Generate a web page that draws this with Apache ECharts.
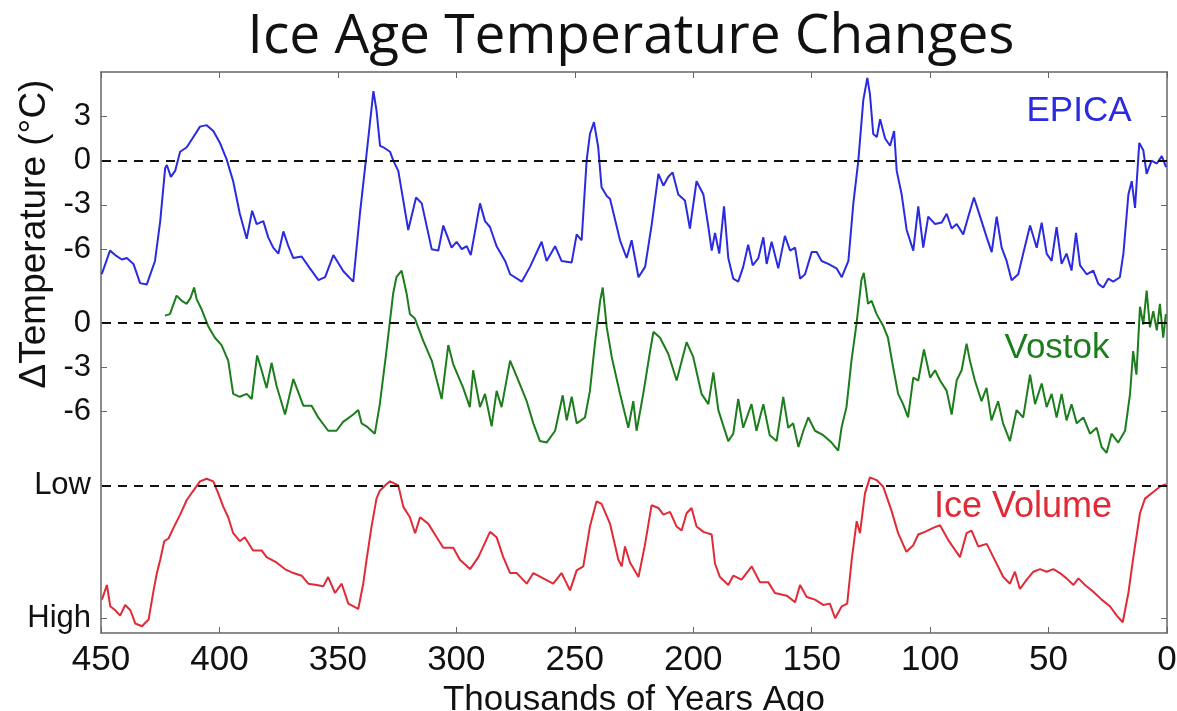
<!DOCTYPE html>
<html><head><meta charset="utf-8">
<script src="https://cdn.jsdelivr.net/npm/echarts@6/dist/echarts.min.js"></script>
<style>html,body{margin:0;padding:0;background:#fff}#c{width:1177px;height:711px}</style>
</head><body><div id="c"></div>
<script>
// [thousands of years ago, delta temperature °C]
const epica = [[449.7,-7.7],[446.2,-6.1],[444,-6.4],[441.2,-6.7],[439.1,-6.6],[436.3,-7.0],[433.5,-8.3],[430.7,-8.4],[427.2,-6.8],[425,-4.1],[422.9,-0.5],[422.2,-0.3],[420.5,-1.1],[418.7,-0.7],[416.6,0.6],[413.8,0.9],[411,1.6],[408.2,2.3],[405.4,2.4],[402.6,2.0],[399.8,1.2],[397,0.1],[394.2,-1.4],[391.4,-3.6],[388.5,-5.3],[386.2,-3.4],[384.3,-4.3],[381.5,-4.1],[379.4,-5.2],[377.3,-5.9],[375.1,-6.3],[373,-4.8],[370.9,-5.8],[368.8,-6.6],[365.3,-6.5],[361.8,-7.3],[358.2,-8.1],[355.4,-7.9],[351.9,-6.4],[347.7,-7.5],[343.5,-8.2],[340.7,-3.6],[338.2,0],[335,4.7],[333.7,3.4],[332.2,1.0],[330.8,0.9],[328,0.6],[326.6,0],[324.5,-0.7],[320.3,-4.7],[317,-2.5],[314.6,-2.9],[310.4,-6.0],[307.6,-6.1],[305.5,-4.4],[302,-5.9],[299.9,-5.5],[297.7,-6.0],[295.6,-5.8],[293.9,-6.4],[290,-2.9],[287.9,-4.1],[285.8,-4.5],[283,-5.8],[279.4,-6.8],[277.3,-7.7],[272.4,-8.2],[268.9,-7.2],[264,-5.5],[261.9,-6.8],[258.3,-5.8],[255.6,-6.8],[251.3,-6.9],[249.2,-5.0],[247.1,-5.4],[245,0],[243.6,1.8],[241.9,2.6],[240.1,0.9],[238.7,-1.8],[236.5,-2.4],[235.1,-2.6],[230.9,-5.4],[228.1,-6.6],[226,-5.4],[223.1,-7.9],[220.3,-7.2],[217.5,-4.3],[214.7,-0.9],[212.6,-1.7],[210.5,-1.1],[208.7,-0.8],[206.3,-2.3],[203.5,-2.7],[201.4,-4.6],[198.6,-1.4],[195.7,-2.3],[193.6,-4.5],[192.2,-6.1],[190.8,-4.9],[189,-6.3],[187,-3.1],[185.2,-6.6],[183.1,-8.0],[181,-8.2],[178.9,-7.2],[176.8,-5.7],[174.9,-7.1],[172.5,-6.6],[170.4,-5.2],[169,-7.0],[166.9,-5.5],[164.1,-7.3],[161.3,-5.1],[159.1,-6.1],[157,-5.9],[154.9,-8.0],[152.8,-7.7],[150,-6.2],[147.9,-6.2],[145.8,-6.8],[143,-7.0],[139.5,-7.3],[137.3,-7.9],[134.5,-6.8],[132.4,-2.9],[130.3,0],[128.2,4.1],[126.5,5.6],[125.4,4.5],[124,1.8],[122.5,1.6],[121.1,2.8],[119,1.5],[116.9,1.0],[115.2,2.0],[114.1,-0.7],[112,-2.3],[109.9,-4.7],[107.1,-6.1],[105,-3.1],[102.9,-5.9],[100.8,-3.8],[97.9,-4.3],[95.1,-4.2],[93,-3.6],[90.9,-4.6],[88.8,-4.3],[86,-5.0],[83.9,-3.8],[81.5,-2.5],[78.9,-3.8],[76.1,-5.2],[74,-6.2],[71.9,-3.8],[69.8,-5.9],[67.7,-6.8],[65.6,-8.1],[62.8,-7.7],[60.7,-6.3],[57.8,-4.4],[55,-5.9],[52.9,-4.2],[50.8,-6.3],[48.7,-6.8],[46.6,-4.5],[44.5,-7.0],[42.4,-6.3],[40.3,-7.45],[38.4,-4.9],[36.7,-7.1],[33.9,-7.7],[31.1,-7.45],[29,-8.35],[26.9,-8.6],[24.8,-8.0],[22.7,-8.2],[19.9,-7.9],[18.4,-6.3],[16.3,-2.3],[14.9,-1.4],[13.5,-3.2],[11.7,1.2],[10,0.7],[8.6,-0.9],[6.5,0],[4.3,-0.2],[2.2,0.3],[0.4,-0.45]];

const vostok = [[423,0.5],[420.9,0.6],[418.1,1.85],[415.9,1.5],[413.8,1.3],[412.2,1.7],[410.7,2.4],[409.6,1.6],[407.6,0.95],[404.8,-0.2],[401.9,-1.0],[399.1,-1.5],[396.3,-2.55],[394.2,-4.8],[391.4,-5.0],[388.5,-4.8],[386.4,-5.15],[384.1,-2.2],[382.2,-3.2],[380.1,-4.4],[378,-2.7],[375.9,-4.25],[372.3,-6.2],[368.8,-3.8],[366.7,-4.7],[364.6,-5.6],[361.1,-5.6],[358.3,-6.4],[354.1,-7.3],[350.6,-7.3],[347.8,-6.7],[343.5,-6.2],[341.4,-5.9],[340,-6.8],[337.9,-7.0],[334.4,-7.5],[332.3,-5.5],[329.5,-1.9],[326.7,1.96],[325.3,3.1],[323.1,3.54],[321,2.0],[319.6,0.6],[317.5,0.3],[314,-1.2],[310.4,-2.55],[306.2,-5.15],[303.4,-1.5],[301.3,-2.8],[297.1,-4.4],[294.3,-5.7],[292.9,-3.2],[290,-5.7],[287.9,-4.8],[285.1,-7.0],[283,-4.6],[280.9,-5.7],[277.3,-2.55],[273.8,-3.9],[270.3,-5.3],[267.5,-6.8],[264.7,-8.0],[261.9,-8.1],[258.3,-7.3],[255.1,-4.9],[253.4,-6.6],[251.3,-5.0],[249.2,-6.8],[245.7,-6.4],[243.6,-4.6],[241.5,-1.4],[239.3,1.5],[238.2,2.4],[236.5,-0.3],[234.4,-2.3],[230.9,-4.8],[227.4,-7.1],[225.3,-5.3],[223.9,-7.3],[221.1,-4.8],[218.2,-1.9],[216.8,-0.6],[214,-1.0],[210.5,-2.1],[207,-3.9],[202.8,-1.3],[200,-2.3],[196.5,-4.8],[193.6,-5.5],[191.5,-3.35],[189.4,-5.9],[185.2,-8.0],[183.1,-7.5],[181,-5.15],[178.9,-7.1],[175.4,-5.5],[173.3,-7.3],[170.4,-5.5],[167.7,-7.6],[164.8,-8.0],[162,-5.0],[159.9,-7.1],[157.8,-6.8],[155.6,-8.4],[153.5,-7.3],[151.4,-6.4],[148.6,-7.3],[145.1,-7.6],[141.6,-8.1],[138.8,-8.65],[137.4,-7.1],[135.3,-5.7],[133.2,-2.55],[131.1,-0.1],[129,2.9],[128,3.4],[126.2,1.3],[124.7,1.5],[122.6,0.6],[119.8,-0.2],[117.8,-1.0],[115.6,-3.0],[113.5,-4.8],[111.4,-5.5],[109.3,-6.4],[107.1,-3.7],[105,-3.9],[102.6,-1.8],[100,-3.7],[97.9,-3.2],[95.8,-3.9],[93,-4.6],[90.9,-6.2],[88.8,-3.9],[86.7,-3.2],[84.6,-1.4],[83.2,-2.55],[81.1,-3.9],[78.3,-5.3],[76.2,-4.4],[74.1,-6.6],[71.3,-5.3],[69.2,-6.8],[66.3,-8.0],[63.5,-5.9],[60.7,-6.4],[57.8,-3.5],[55.7,-5.5],[52.9,-4.1],[50.8,-5.7],[48.7,-4.8],[46.6,-6.4],[44.5,-4.8],[42.4,-6.6],[40.3,-5.5],[38.1,-6.8],[35.3,-6.4],[32.5,-7.5],[29.7,-7.1],[27.6,-8.4],[25.5,-8.8],[23.4,-7.5],[20.6,-8.1],[17.7,-7.3],[15.6,-4.8],[14.3,-1.9],[12.9,-3.5],[11.4,1.1],[10,-0.1],[8.6,2.2],[7.2,-0.3],[5.8,0.8],[4.3,-0.5],[3,1.3],[1.6,-1.0],[0.5,0.6]];

// [thousands of years ago, ice volume index: 0 = High, 100 = Low]
const iceVolume = [[449.6,14],[447.5,25],[446.1,9],[444,6],[441.9,2],[439.8,10],[437.6,6],[435.5,-4],[432.7,-6],[429.9,-1],[427.8,21],[426.4,34],[425,44],[423.3,58],[421.5,60],[419.4,68],[416.6,78],[413.8,89],[411,96],[408.2,103],[405.4,105],[402.6,103],[400.5,94],[398.4,84],[396.3,76],[394.2,64],[391.4,58],[389.3,61],[385.8,51],[382.2,51],[380.1,46],[375.9,42],[372.4,37],[368.8,34],[365.3,32],[362.5,26],[359,25],[356.2,24],[354.1,31],[351.2,19],[348.4,26],[345.6,11],[341.4,7],[339.3,26],[337.9,44],[335.8,69],[333.7,90],[332.3,96],[329.4,101],[328,103],[324.5,100],[322.4,84],[319.6,76],[317.4,64],[315.3,76],[311.8,71],[308.3,61],[305.5,53],[301.3,53],[298.5,44],[294.2,37],[290.7,46],[285.8,65],[283,61],[280.2,46],[277.3,34],[274.5,34],[270.3,26],[267.5,34],[263.3,30],[259.1,26],[255.6,34],[252,21],[249.2,36],[246.4,39],[243.6,69],[240.8,88],[238.7,86],[235.1,71],[231.6,44],[230.2,39],[228.8,54],[226.7,42],[223.1,31],[220.3,56],[217.6,85],[214.7,83],[212.6,78],[209.8,80],[207,69],[204.9,66],[202.8,79],[200.7,83],[198.6,69],[195.7,65],[192.2,63],[190.8,41],[188.7,31],[185.2,25],[183.1,32],[179.6,29],[175.3,39],[171.8,27],[168.3,27],[165.5,19],[160.5,17],[157,12],[154.9,25],[152.1,16],[148.6,14],[145.1,10],[142.3,11],[140.1,0],[137.3,9],[135,11],[133.1,44],[131,73],[129.6,64],[127.5,94],[125.4,106],[122.6,104],[119.8,99],[116.3,81],[113.5,64],[110,50],[107.1,55],[105,63],[102.2,65],[98.7,68],[95.8,70],[92.4,59],[87.4,46],[84.6,64],[82.5,66],[79.7,54],[76.1,56],[73.3,46],[69.1,31],[66.3,26],[64.2,35],[62.1,22],[59.2,29],[56.4,35],[53.6,37],[50.8,35],[48,37],[45.2,34],[42.4,30],[39.5,25],[37.4,30],[34.6,25],[31.1,20],[27.6,14],[24.1,9],[21.2,2],[18.7,-3],[16.3,19],[14.2,46],[11.4,79],[9.3,90],[5.8,95],[3,99],[0.5,101]];

const tempTickLabels = ['3','0','-3','-6'];
const vostokTickLabels = ['0','-3','-6'];
const iceTickLabels = ['Low','High'];
const seriesNames = ['EPICA','Vostok','Ice Volume'];

// stacking layout on a shared vertical scale (units of °C)
const EPICA_BASE = 0, VOSTOK_BASE = -11, ICE_HIGH = -31, ICE_SPAN = 9;
const tickVals = [], labelMap = {};
tempTickLabels.forEach(l => { const v = +l + EPICA_BASE; tickVals.push(v); labelMap[v] = l; });
vostokTickLabels.forEach(l => { const v = +l + VOSTOK_BASE; tickVals.push(v); labelMap[v] = l; });
tickVals.push(ICE_HIGH + ICE_SPAN); labelMap[ICE_HIGH + ICE_SPAN] = iceTickLabels[0];
tickVals.push(ICE_HIGH); labelMap[ICE_HIGH] = iceTickLabels[1];

const AX = '#666';
const LBL = { fontFamily: 'Liberation Sans, Arial, sans-serif', color: '#111' };
const axLine = { show: true, onZero: false, lineStyle: { color: AX, width: 1.5 } };
const dash = (v) => ({ silent: true, symbol: ['none','none'], label: { show: false },
  lineStyle: { type: [9, 7], color: '#111', width: 2 }, data: [{ yAxis: v }] });

const chart = echarts.init(document.getElementById('c'));
chart.setOption({
  animation: false,
  backgroundColor: '#fff',
  grid: { left: 101, right: 10, top: 72, bottom: 78, containLabel: false, outerBoundsMode: 'none' },
  xAxis: [{
    type: 'value', min: 0, max: 450, interval: 50, inverse: true, position: 'bottom',
    axisLine: axLine,
    axisTick: { show: true, inside: true, length: 6, lineStyle: { color: AX } },
    axisLabel: Object.assign({ fontSize: 35, margin: 10 }, LBL),
    splitLine: { show: false },
    name: 'Thousands of Years Ago', nameLocation: 'middle', nameGap: 42,
    nameTextStyle: Object.assign({ fontSize: 35 }, LBL)
  }, {
    type: 'value', min: 0, max: 450, interval: 50, inverse: true, position: 'top',
    axisLine: axLine,
    axisTick: { show: true, inside: true, length: 6, lineStyle: { color: AX } },
    axisLabel: { show: false }, splitLine: { show: false }
  }],
  yAxis: [{
    type: 'value', min: -32, max: 6, position: 'left',
    axisLine: axLine,
    axisTick: { show: true, inside: true, length: 6, customValues: tickVals, lineStyle: { color: AX } },
    axisLabel: Object.assign({ fontSize: 31, margin: 10, customValues: tickVals, formatter: v => labelMap[v] }, LBL),
    splitLine: { show: false }
  }, {
    type: 'value', min: -32, max: 6, position: 'right',
    axisLine: axLine,
    axisTick: { show: true, inside: true, length: 6, customValues: tickVals, lineStyle: { color: AX } },
    axisLabel: { show: false }, splitLine: { show: false }
  }],
  series: [{
    name: seriesNames[0], type: 'line', showSymbol: false, color: '#2a2ae0',
    lineStyle: { width: 2 },
    data: epica.map(([a, t]) => [a, t + EPICA_BASE]),
    markLine: dash(EPICA_BASE)
  }, {
    name: seriesNames[1], type: 'line', showSymbol: false, color: '#1b7d1b',
    lineStyle: { width: 2 },
    data: vostok.map(([a, t]) => [a, t + VOSTOK_BASE]),
    markLine: dash(VOSTOK_BASE)
  }, {
    name: seriesNames[2], type: 'line', showSymbol: false, color: '#e02a36',
    lineStyle: { width: 2 },
    data: iceVolume.map(([a, v]) => [a, ICE_HIGH + ICE_SPAN * v / 100]),
    markLine: dash(ICE_HIGH + ICE_SPAN)
  }],
  graphic: [
    { type: 'text', x: 631, y: 37, style: { text: 'Ice Age Temperature Changes', fontFamily: 'Open Sans', fontSize: 55, fill: '#111', align: 'center', verticalAlign: 'middle' } },
    { type: 'text', x: 35, y: 234, rotation: Math.PI / 2, style: { text: 'ΔTemperature (°C)', fontFamily: 'Liberation Sans', fontSize: 37, fill: '#111', align: 'center', verticalAlign: 'middle' } },
    { type: 'text', x: 1079, y: 111, style: { text: seriesNames[0], fontFamily: 'Liberation Sans', fontSize: 35, fill: '#2a2ae0', align: 'center', verticalAlign: 'middle' } },
    { type: 'text', x: 1057, y: 348, style: { text: seriesNames[1], fontFamily: 'Liberation Sans', fontSize: 35, fill: '#1b7d1b', align: 'center', verticalAlign: 'middle' } },
    { type: 'text', x: 1023, y: 507, style: { text: seriesNames[2], fontFamily: 'Liberation Sans', fontSize: 36, fill: '#e02a36', align: 'center', verticalAlign: 'middle' } }
  ]
});
</script></body></html>
